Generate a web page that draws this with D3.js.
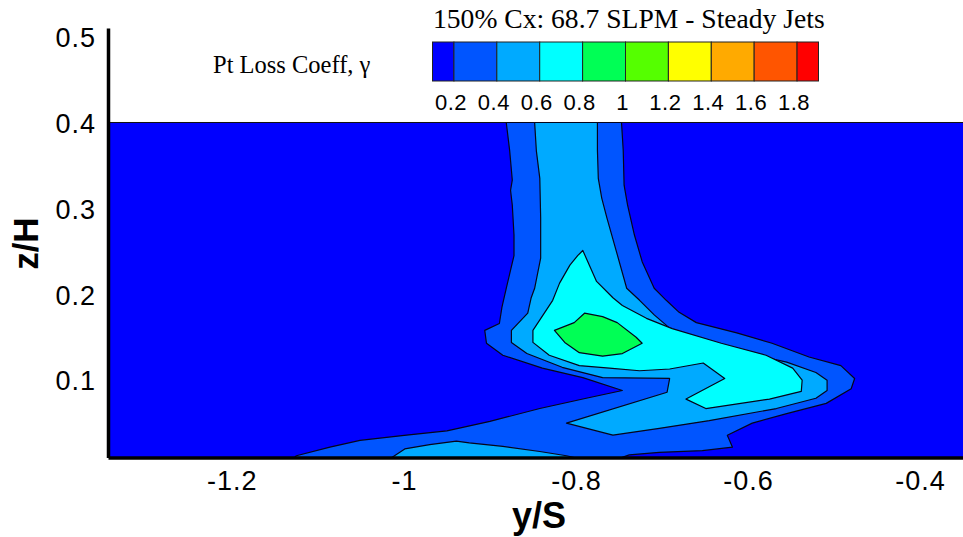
<!DOCTYPE html>
<html>
<head>
<meta charset="utf-8">
<script src="https://cdn.jsdelivr.net/npm/d3@7"></script>
<style>
  html, body { margin: 0; padding: 0; background: #fff; }
  svg { display: block; }
</style>
</head>
<body>
<svg id="chart" width="963" height="537"></svg>
<script>
// ---------- data ----------
const xTicks = [-1.2, -1, -0.8, -0.6, -0.4];
const xTickLabels = ["-1.2", "-1", "-0.8", "-0.6", "-0.4"];
const zTicks = [0.1, 0.2, 0.3, 0.4, 0.5];
const zTickLabels = ["0.1", "0.2", "0.3", "0.4", "0.5"];
const xDomain = [-1.344, -0.35];
const zDomain = [0.01, 0.51];
const fieldTop = 0.4;

const levels = [0.2, 0.4, 0.6, 0.8, 1.0, 1.2, 1.4, 1.6, 1.8];
const levelColors = ["#0000FF", "#0055FF", "#00AAFF", "#00FFFF", "#00FF55",
                     "#55FF00", "#FFFF00", "#FFAA00", "#FF5500", "#FF0000"];
const legendLabels = ["0.2", "0.4", "0.6", "0.8", "1", "1.2", "1.4", "1.6", "1.8"];

const titleText = "150% Cx: 68.7 SLPM - Steady Jets";
const legendTitle = "Pt Loss Coeff, \u03B3";
const xTitle = "y/S";
const zTitle = "z/H";

// contour region boundaries in data coordinates [y/S, z/H]
const contour02 = [[-0.881,0.4],[-0.747,0.4],[-0.745,0.367],[-0.744,0.327],[-0.740,0.304],[-0.732,0.269],[-0.723,0.238],[-0.709,0.207],[-0.695,0.193],[-0.680,0.179],[-0.660,0.167],[-0.613,0.155],[-0.572,0.143],[-0.529,0.127],[-0.492,0.117],[-0.476,0.102],[-0.480,0.090],[-0.509,0.073],[-0.555,0.061],[-0.595,0.050],[-0.624,0.036],[-0.618,0.022],[-0.653,0.018],[-0.703,0.016],[-0.738,0.013],[-0.747,0.010],[-1.127,0.010],[-1.125,0.012],[-1.086,0.022],[-1.051,0.030],[-0.997,0.036],[-0.950,0.041],[-0.900,0.052],[-0.842,0.067],[-0.788,0.079],[-0.746,0.088],[-0.792,0.103],[-0.839,0.114],[-0.885,0.129],[-0.904,0.143],[-0.906,0.158],[-0.889,0.166],[-0.886,0.185],[-0.881,0.207],[-0.872,0.245],[-0.872,0.269],[-0.874,0.304],[-0.876,0.321],[-0.874,0.333],[-0.877,0.367]];
const contour04a = [[-0.848,0.4],[-0.775,0.4],[-0.775,0.367],[-0.774,0.335],[-0.770,0.312],[-0.764,0.289],[-0.753,0.250],[-0.741,0.207],[-0.726,0.193],[-0.709,0.176],[-0.688,0.158],[-0.625,0.137],[-0.555,0.121],[-0.521,0.109],[-0.508,0.100],[-0.508,0.088],[-0.521,0.079],[-0.567,0.067],[-0.645,0.053],[-0.703,0.044],[-0.757,0.036],[-0.811,0.050],[-0.694,0.086],[-0.691,0.102],[-0.769,0.103],[-0.816,0.115],[-0.857,0.131],[-0.875,0.144],[-0.875,0.158],[-0.856,0.178],[-0.852,0.196],[-0.848,0.207],[-0.841,0.242],[-0.841,0.289],[-0.842,0.335],[-0.846,0.367]];
const contour04b = [[-1.014,0.010],[-0.999,0.020],[-0.970,0.025],[-0.939,0.029],[-0.924,0.027],[-0.885,0.023],[-0.842,0.017],[-0.811,0.012],[-0.802,0.010]];
const contour06 = [[-0.792,0.251],[-0.788,0.242],[-0.776,0.215],[-0.757,0.196],[-0.746,0.187],[-0.718,0.172],[-0.688,0.160],[-0.631,0.143],[-0.579,0.129],[-0.548,0.114],[-0.537,0.100],[-0.538,0.087],[-0.575,0.078],[-0.649,0.067],[-0.672,0.078],[-0.627,0.102],[-0.652,0.120],[-0.691,0.113],[-0.726,0.111],[-0.761,0.114],[-0.796,0.117],[-0.831,0.129],[-0.850,0.144],[-0.850,0.158],[-0.827,0.193],[-0.819,0.213],[-0.807,0.234],[-0.798,0.245]];
const contour08 = [[-0.790,0.178],[-0.802,0.167],[-0.825,0.158],[-0.813,0.144],[-0.796,0.132],[-0.769,0.128],[-0.746,0.131],[-0.723,0.143],[-0.730,0.150],[-0.752,0.167],[-0.769,0.174]];

const regions = [
  { level: 0.2, pts: contour02 },
  { level: 0.4, pts: contour04a },
  { level: 0.4, pts: contour04b },
  { level: 0.6, pts: contour06 },
  { level: 0.8, pts: contour08 }
];

// ---------- drawing ----------
const svg = d3.select("#chart");
const plot = { left: 108, right: 963, top: 28, bottom: 457.5 };

const x = d3.scaleLinear().domain(xDomain).range([plot.left, plot.right]);
const z = d3.scaleLinear().domain(zDomain).range([plot.bottom, plot.top]);
const color = d3.scaleThreshold().domain(levels).range(levelColors);

const sans = "'Liberation Sans', Arial, sans-serif";
const serif = "'Liberation Serif', 'Times New Roman', serif";

svg.append("defs").append("clipPath").attr("id", "clip")
  .append("rect")
  .attr("x", plot.left).attr("y", plot.top)
  .attr("width", plot.right - plot.left).attr("height", plot.bottom - plot.top);

const g = svg.append("g").attr("clip-path", "url(#clip)");

// background field (lowest level)
g.append("rect")
  .attr("x", x(xDomain[0])).attr("y", z(fieldTop))
  .attr("width", x(xDomain[1]) - x(xDomain[0]))
  .attr("height", z(zDomain[0]) - z(fieldTop))
  .attr("fill", color(0));
g.append("line")
  .attr("x1", x(xDomain[0])).attr("x2", x(xDomain[1]))
  .attr("y1", z(fieldTop)).attr("y2", z(fieldTop))
  .attr("stroke", "#111").attr("stroke-width", 1);

const line = d3.line().x(d => x(d[0])).y(d => z(d[1])).curve(d3.curveLinearClosed);

g.selectAll("path.region")
  .data(regions)
  .join("path")
  .attr("class", "region")
  .attr("d", d => line(d.pts))
  .attr("fill", d => color(d.level))
  .attr("stroke", "#05051a")
  .attr("stroke-width", 1.2)
  .attr("stroke-linejoin", "round");

// axes
const xAxis = d3.axisBottom(x).tickValues(xTicks).tickSize(0).tickPadding(0)
  .tickFormat((d, i) => xTickLabels[i]);
const xg = svg.append("g").attr("transform", `translate(0,${plot.bottom})`).call(xAxis);
xg.select(".domain").attr("stroke", "#000").attr("stroke-width", 3.5);
xg.selectAll(".tick text")
  .attr("y", 32).attr("dy", 0)
  .attr("font-family", sans).attr("font-size", 27)
  .attr("letter-spacing", "1px")
  .attr("fill", "#000");

const zAxis = d3.axisLeft(z).tickValues(zTicks).tickSize(0).tickPadding(0)
  .tickFormat((d, i) => zTickLabels[i]);
const zg = svg.append("g").attr("transform", `translate(${plot.left},0)`).call(zAxis);
zg.select(".domain").attr("stroke", "#000").attr("stroke-width", 3.5);
zg.selectAll(".tick text")
  .attr("x", -12).attr("dy", "0.36em")
  .attr("font-family", sans).attr("font-size", 27)
  .attr("letter-spacing", "1px")
  .attr("fill", "#000");

// axis titles
svg.append("text")
  .attr("x", x(-0.843)).attr("y", 528)
  .attr("text-anchor", "middle")
  .attr("font-family", sans).attr("font-weight", "bold").attr("font-size", 36)
  .text(xTitle);
svg.append("text")
  .attr("transform", `translate(38,${z(0.259)}) rotate(-90)`)
  .attr("text-anchor", "middle")
  .attr("font-family", sans).attr("font-weight", "bold").attr("font-size", 35)
  .text(zTitle);

// legend
const legend = svg.append("g");
const lx = d3.scaleLinear().domain([0.1, 1.9]).range([432.5, 818.5]);
const boxEdges = [0.1].concat(levels).concat([1.9]);
legend.selectAll("rect")
  .data(levelColors)
  .join("rect")
  .attr("x", (d, i) => lx(boxEdges[i]))
  .attr("y", 42)
  .attr("width", (d, i) => lx(boxEdges[i + 1]) - lx(boxEdges[i]))
  .attr("height", 39)
  .attr("fill", d => d)
  .attr("stroke", "#222").attr("stroke-width", 1);

legend.selectAll("text.lab")
  .data(levels)
  .join("text")
  .attr("class", "lab")
  .attr("x", d => lx(d) - 3)
  .attr("y", 110)
  .attr("text-anchor", "middle")
  .attr("font-family", sans).attr("font-size", 22)
  .attr("letter-spacing", "0.5px")
  .text((d, i) => legendLabels[i]);

svg.append("text")
  .attr("x", 433).attr("y", 28)
  .attr("font-family", serif).attr("font-size", 27.6)
  .text(titleText);

svg.append("text")
  .attr("x", 213).attr("y", 73)
  .attr("font-family", serif).attr("font-size", 24.5)
  .text(legendTitle);
</script>
</body>
</html>
